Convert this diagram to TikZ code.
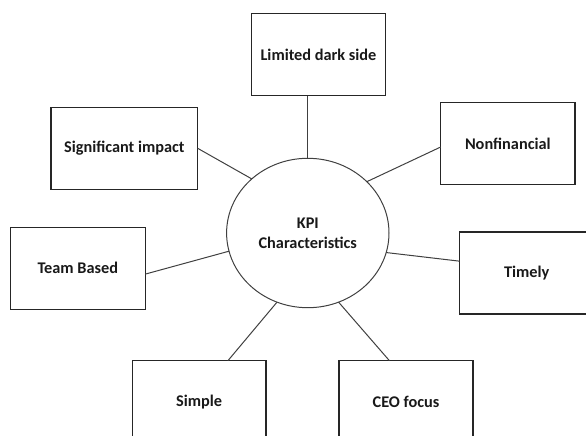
\documentclass[tikz,border=0pt]{standalone}
\usepackage{fontspec}
\setmainfont{Carlito}
\usetikzlibrary{shapes.geometric}
\begin{document}
\begin{tikzpicture}[x=1pt,y=-1pt,
  every node/.style={font=\fontsize{16.3}{19.6}\selectfont\bfseries, text=black!90, outer sep=0pt},
  kpibox/.style={draw=black!85, line width=1.2pt, minimum height=82pt, inner sep=0pt},
  hub/.style={ellipse, draw=black!75, line width=1pt, minimum width=162.4pt, minimum height=149.4pt, inner sep=0pt, align=center},
  spoke/.style={draw=black!75, line width=1pt}]
\useasboundingbox (0,0) rectangle (586,436);
\clip (0,0) rectangle (586,436);

% central characteristic
\node[hub] (kpi) at (307.8,233) {KPI\\Characteristics};

% surrounding characteristics
\node[kpibox, minimum width=133.6pt] (lim) at (318.5,54.5) {Limited dark side};
\node[kpibox, minimum width=146.7pt] (sig) at (124.3,148.3) {Significant impact};
\node[kpibox, minimum width=134.3pt] (nf)  at (507.8,143.5) {Nonfinancial};
\node[kpibox, minimum width=135pt]   (team) at (77.8,268.2) {Team Based};
\node[kpibox, minimum width=134pt]   (tim) at (526.7,273) {Timely};
\node[kpibox, minimum width=133.7pt] (sim) at (199.2,401.7) {Simple};
\node[kpibox, minimum width=134pt]   (ceo) at (406,401.7) {CEO focus};

% spokes
\draw[spoke] (kpi.north) -- (kpi.north |- lim.south);
\draw[spoke] (sig.east) -- (kpi.136.6);
\draw[spoke] (nf.183.6) -- (kpi.41.8);
\draw[spoke] (team.355.3) -- (kpi.193.4);
\draw[spoke] (tim.170.4) -- (kpi.346.6);
\draw[spoke] (sim.55.2) -- (kpi.246);
\draw[spoke] (ceo.112.9) -- (kpi.294.5);
\end{tikzpicture}
\end{document}
